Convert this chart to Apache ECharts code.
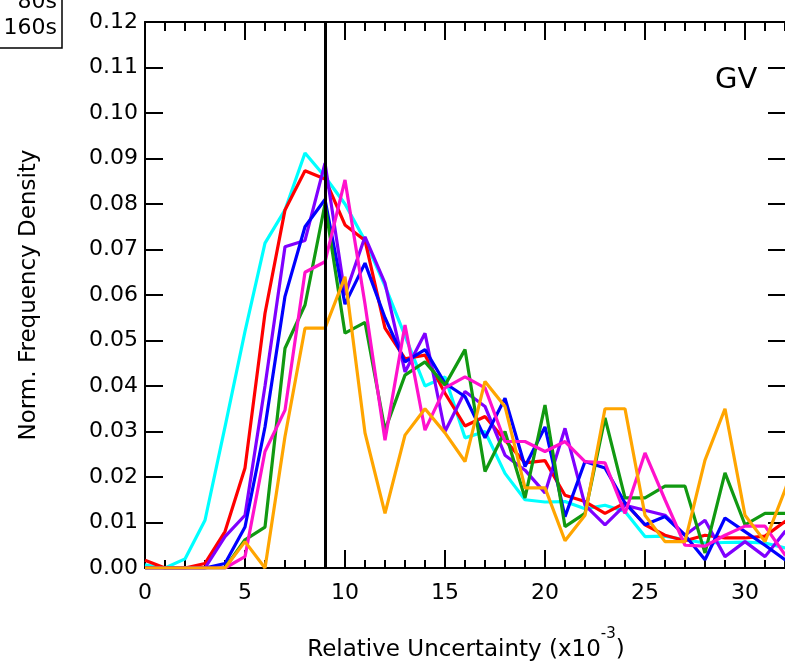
<!DOCTYPE html>
<html>
<head>
<meta charset="utf-8">
<script src="https://cdn.jsdelivr.net/npm/echarts@6/dist/echarts.min.js"></script>
<style>
html,body{margin:0;padding:0;background:#fff;}
#chart{width:785px;height:664px;}
</style>
</head>
<body>
<div id="chart"></div>
<script>
const xValues = [0,1,2,3,4,5,6,7,8,9,10,11,12,13,14,15,16,17,18,19,20,21,22,23,24,25,26,27,28,29,30,31,32,33];
const cyanVals = [0.0007,0,0.002,0.0105,0.031,0.052,0.0714,0.0787,0.0912,0.086,0.080,0.072,0.062,0.051,0.040,0.042,0.0286,0.030,0.0208,0.015,0.0145,0.0146,0.013,0.0138,0.0124,0.0069,0.007,0.0062,0.0055,0.0056,0.0057,0.0055,0.0044,0.004];
const redVals = [0.0017,0,0,0.001,0.008,0.022,0.056,0.0787,0.0873,0.0855,0.0754,0.072,0.0527,0.046,0.0468,0.0384,0.0312,0.0333,0.0281,0.0231,0.0236,0.016,0.0146,0.012,0.0143,0.0095,0.0072,0.006,0.0072,0.0066,0.0066,0.007,0.0102,0.013];
const purpleVals = [0,0,0,0,0.0069,0.0116,0.040,0.0706,0.072,0.089,0.060,0.0728,0.0626,0.0431,0.0516,0.030,0.0388,0.0355,0.0248,0.0215,0.0165,0.0307,0.0138,0.0095,0.0138,0.0127,0.0116,0.0072,0.0105,0.0025,0.0058,0.0025,0.008,0.010];
const blueVals = [0,0,0,0,0.001,0.009,0.031,0.0597,0.075,0.081,0.058,0.067,0.055,0.0453,0.048,0.0406,0.0377,0.0286,0.0373,0.0223,0.031,0.0113,0.0234,0.022,0.0143,0.0095,0.0113,0.0072,0.0018,0.011,0.008,0.005,0.0018,0];
const greenVals = [0,0,0,0,0,0.0062,0.009,0.0483,0.0578,0.080,0.0516,0.054,0.0303,0.0424,0.0453,0.0402,0.048,0.0212,0.030,0.0154,0.0358,0.0091,0.012,0.033,0.0154,0.0154,0.018,0.018,0.0033,0.0209,0.0095,0.012,0.012,0.012];
const magentaVals = [0,0,0,0,0,0.0025,0.0256,0.0347,0.065,0.0673,0.0853,0.058,0.0281,0.0534,0.0303,0.0396,0.042,0.0396,0.0278,0.0278,0.0256,0.0278,0.0234,0.0231,0.012,0.0253,0.015,0.005,0.0048,0.0072,0.0092,0.0092,0.0029,0];
const orangeVals = [0,0,0,0,0,0.0058,0,0.0289,0.0527,0.0527,0.064,0.0297,0.012,0.0292,0.035,0.0297,0.0234,0.041,0.0355,0.0176,0.0176,0.006,0.0116,0.035,0.035,0.0116,0.0058,0.0058,0.0237,0.035,0.0116,0.0058,0.0171,0.030];
const markerX = 9;
const legendLabels = ['80s', '160s'];
const panelLabel = 'GV';
const xName = 'Relative Uncertainty (x10{sup|-3})';
const yName = 'Norm. Frequency Density';

const FONT = 'DejaVu Sans';
function pairs(vals){ return vals.map((v,i)=>[xValues[i], v]); }
function mk(name, vals, color){
  return {name, type:'line', xAxisIndex:0, yAxisIndex:0, data:pairs(vals), symbol:'none',
    lineStyle:{color, width:3.2}, itemStyle:{color}, animation:false};
}
const series = [
  mk('cyan', cyanVals, '#00FFFF'),
  mk('red', redVals, '#FF0000'),
  mk('purple', purpleVals, '#7F00FF'),
  mk('blue', blueVals, '#0000FF'),
  mk('green', greenVals, '#119911'),
  mk('magenta', magentaVals, '#FF11CC'),
  mk('orange', orangeVals, '#FFA500')
];
series[series.length-1].markLine = {
  silent:true, symbol:'none', animation:false,
  label:{show:false},
  lineStyle:{color:'#000', width:3, type:'solid'},
  data:[{xAxis: markerX}]
};

// 20 px per unit; x range 0..35 -> 700 px (the part beyond 32 falls outside the canvas)
const G = {left:145, top:22, width:700, height:546, outerBoundsMode:'none', containLabel:false};
const line2 = {show:true, onZero:false, lineStyle:{color:'#000', width:2}};
const tickMajor = {show:true, inside:true, length:18, lineStyle:{color:'#000', width:2}};
const chart = echarts.init(document.getElementById('chart'), null, {renderer:'canvas'});
chart.setOption({
  animation:false,
  backgroundColor:'#fff',
  textStyle:{fontFamily:FONT},
  grid:[G],
  xAxis:[
    {type:'value', position:'bottom', min:0, max:35, interval:5,
     axisLine:line2, axisTick:tickMajor,
     minorTick:{show:true, splitNumber:5, length:8, lineStyle:{color:'#000', width:2}},
     axisLabel:{show:true, color:'#000', fontSize:22, fontFamily:FONT, margin:14},
     splitLine:{show:false}, minorSplitLine:{show:false},
     name:xName, nameLocation:'middle', nameGap:59,
     nameTextStyle:{color:'#000', fontSize:23, fontFamily:FONT, lineHeight:46, padding:[0,58,0,0],
       rich:{sup:{fontSize:15, fontFamily:FONT, verticalAlign:'top', lineHeight:14, color:'#000'}}}
    },
    {type:'value', position:'top', min:0, max:35, interval:5,
     axisLine:line2, axisTick:tickMajor,
     minorTick:{show:true, splitNumber:5, length:9, lineStyle:{color:'#000', width:2}},
     axisLabel:{show:false}, splitLine:{show:false}, minorSplitLine:{show:false}}
  ],
  yAxis:[
    {type:'value', position:'left', min:0, max:0.12, interval:0.01,
     axisLine:line2, axisTick:tickMajor,
     axisLabel:{show:true, color:'#000', fontSize:22, fontFamily:FONT, margin:7,
       formatter:(v)=>v.toFixed(2)},
     splitLine:{show:false},
     name:yName, nameLocation:'middle', nameGap:104, nameRotate:90,
     nameTextStyle:{color:'#000', fontSize:23, fontFamily:FONT}
    },
    {type:'value', position:'right', offset:-59, min:0, max:0.12, interval:0.01,
     axisLine:line2, axisTick:tickMajor,
     axisLabel:{show:false}, splitLine:{show:false}}
  ],
  graphic:[
    {type:'rect', shape:{x:-10, y:-10, width:72, height:58},
     style:{fill:'#fff', stroke:'#000', lineWidth:1.5}, z:100},
    {type:'text', x:57, y:-9, z:101,
     style:{text:legendLabels[0], fontSize:22, fontFamily:FONT, fill:'#000', textAlign:'right'}},
    {type:'text', x:57, y:17, z:101,
     style:{text:legendLabels[1], fontSize:22, fontFamily:FONT, fill:'#000', textAlign:'right'}},
    {type:'text', x:715, y:66, z:101,
     style:{text:panelLabel, fontSize:29, fontFamily:FONT, fill:'#000'}}
  ],
  series
});
</script>
</body>
</html>
